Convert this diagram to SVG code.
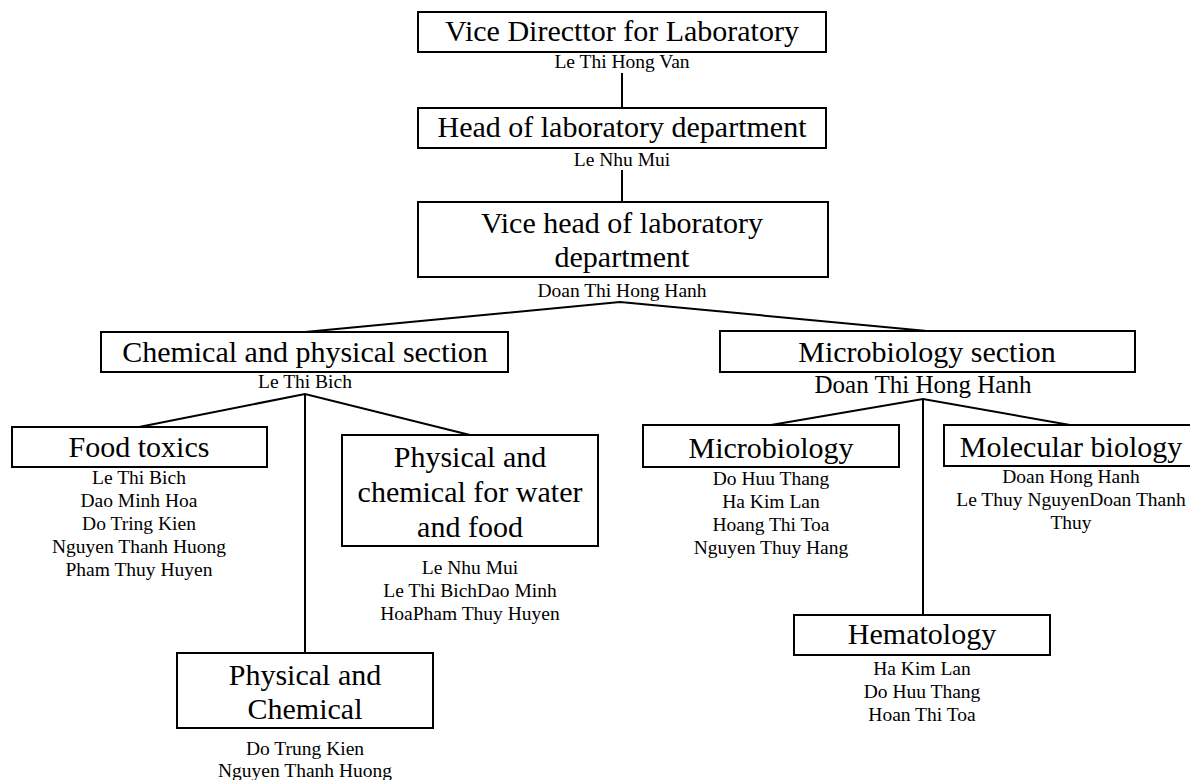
<svg xmlns="http://www.w3.org/2000/svg" width="1190" height="780" viewBox="0 0 1190 780">
  <style>
    .box { fill: #fff; stroke: #000; stroke-width: 2; }
    .t { font-family: "Liberation Serif", "Times New Roman", serif; font-size: 30px; text-anchor: middle; fill: #000; }
    .n { font-family: "Liberation Serif", "Times New Roman", serif; font-size: 19.5px; text-anchor: middle; fill: #000; }
    .n2 { font-family: "Liberation Serif", "Times New Roman", serif; font-size: 25px; text-anchor: middle; fill: #000; }
    .link { fill: none; stroke: #000; stroke-width: 2; }
  </style>
  <rect width="1190" height="780" fill="#fff"/>

  <!-- connectors -->
  <g id="connectors">
    <line class="link" x1="622" y1="73" x2="622" y2="108"/>
    <line class="link" x1="622" y1="170" x2="622" y2="202"/>
    <polyline class="link" points="305,332 620,302 927,331"/>
    <polyline class="link" points="139,427 305,394 470,435"/>
    <line class="link" x1="305" y1="394" x2="305" y2="653"/>
    <polyline class="link" points="771,425 923,399 1070,425"/>
    <line class="link" x1="923" y1="399" x2="923" y2="615"/>
  </g>

  <g id="vice-director">
    <rect class="box" x="418" y="12" width="408" height="40"/>
    <text class="t" x="622" y="41">Vice Directtor for Laboratory</text>
    <text class="n" x="622" y="68">Le Thi Hong Van</text>
  </g>

  <g id="head-lab">
    <rect class="box" x="418" y="108" width="408" height="40"/>
    <text class="t" x="622" y="137">Head of laboratory department</text>
    <text class="n" x="622" y="166">Le Nhu Mui</text>
  </g>

  <g id="vice-head-lab">
    <rect class="box" x="418" y="202" width="410" height="75"/>
    <text class="t" x="622" y="233">Vice head of laboratory</text>
    <text class="t" x="622" y="267">department</text>
    <text class="n" x="622" y="297">Doan Thi Hong Hanh</text>
  </g>

  <g id="chem-phys-section">
    <rect class="box" x="101" y="332" width="407" height="40"/>
    <text class="t" x="305" y="362">Chemical and physical section</text>
    <text class="n" x="305" y="388">Le Thi Bich</text>
  </g>

  <g id="micro-section">
    <rect class="box" x="720" y="331" width="415" height="41"/>
    <text class="t" x="927" y="362">Microbiology section</text>
    <text class="n2" x="923" y="393">Doan Thi Hong Hanh</text>
  </g>

  <g id="food-toxics">
    <rect class="box" x="12" y="427" width="255" height="40"/>
    <text class="t" x="139" y="457">Food toxics</text>
    <text class="n" x="139" y="484">Le Thi Bich</text>
    <text class="n" x="139" y="507">Dao Minh Hoa</text>
    <text class="n" x="139" y="530">Do Tring Kien</text>
    <text class="n" x="139" y="553">Nguyen Thanh Huong</text>
    <text class="n" x="139" y="576">Pham Thuy Huyen</text>
  </g>

  <g id="water-food">
    <rect class="box" x="342" y="435" width="256" height="111"/>
    <text class="t" x="470" y="467">Physical and</text>
    <text class="t" x="470" y="502">chemical for water</text>
    <text class="t" x="470" y="537">and food</text>
    <text class="n" x="470" y="574">Le Nhu Mui</text>
    <text class="n" x="470" y="597">Le Thi BichDao Minh</text>
    <text class="n" x="470" y="620">HoaPham Thuy Huyen</text>
  </g>

  <g id="phys-chem">
    <rect class="box" x="177" y="653" width="256" height="75"/>
    <text class="t" x="305" y="685">Physical and</text>
    <text class="t" x="305" y="719">Chemical</text>
    <text class="n" x="305" y="755">Do Trung Kien</text>
    <text class="n" x="305" y="777">Nguyen Thanh Huong</text>
  </g>

  <g id="microbiology">
    <rect class="box" x="643" y="425" width="256" height="42"/>
    <text class="t" x="771" y="458">Microbiology</text>
    <text class="n" x="771" y="485">Do Huu Thang</text>
    <text class="n" x="771" y="508">Ha Kim Lan</text>
    <text class="n" x="771" y="531">Hoang Thi Toa</text>
    <text class="n" x="771" y="554">Nguyen Thuy Hang</text>
  </g>

  <g id="molecular-biology">
    <rect class="box" x="944" y="425" width="258" height="41"/>
    <text class="t" x="1071" y="457">Molecular biology</text>
    <text class="n" x="1071" y="483">Doan Hong Hanh</text>
    <text class="n" x="1071" y="506">Le Thuy NguyenDoan Thanh</text>
    <text class="n" x="1071" y="529">Thuy</text>
  </g>

  <g id="hematology">
    <rect class="box" x="794" y="615" width="256" height="40"/>
    <text class="t" x="922" y="644">Hematology</text>
    <text class="n" x="922" y="675">Ha Kim Lan</text>
    <text class="n" x="922" y="698">Do Huu Thang</text>
    <text class="n" x="922" y="721">Hoan Thi Toa</text>
  </g>
</svg>
